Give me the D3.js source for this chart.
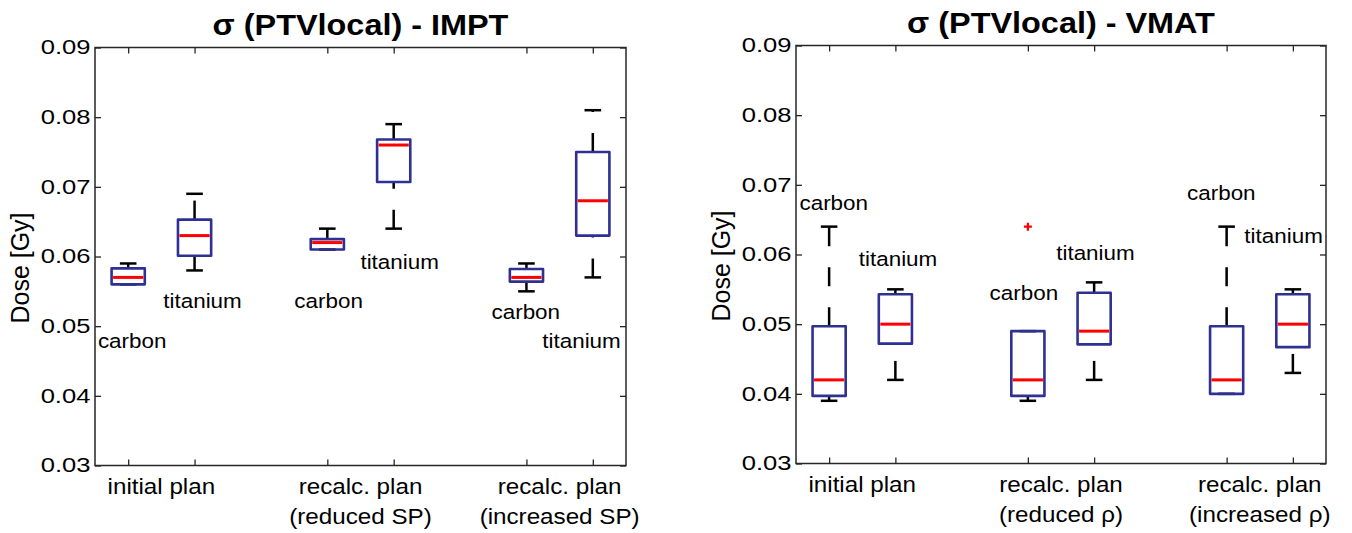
<!DOCTYPE html>
<html lang="en">
  <head>
    <meta charset="utf-8">
    <title>sigma (PTVlocal) boxplots</title>
    <style>
      body { margin: 0; background: #fff; }
      svg text { font-family: "Liberation Sans", Arial, sans-serif; fill: #000; }
      .frame { fill: none; stroke: #262626; stroke-width: 1.5px; }
      .axis line { stroke: #262626; stroke-width: 1.3px; }
      .axis path { display: none; }
    </style>
  </head>
  <body>
    <svg id="chart" width="1352" height="533"></svg>

    <script src="https://cdnjs.cloudflare.com/ajax/libs/d3/7.8.5/d3.min.js"></script>
    <script>
    // box positions (carbon / titanium per plan) and axis ticks
    const positions = [1, 2, 4, 5, 7, 8];
    const yTicks = [0.03, 0.04, 0.05, 0.06, 0.07, 0.08, 0.09];
    const groupCenters = [1.5, 4.5, 7.5];
    const imptGroupLabels = [['initial plan'], ['recalc. plan', '(reduced SP)'], ['recalc. plan', '(increased SP)']];
    const vmatGroupLabels = [['initial plan'], ['recalc. plan', '(reduced \u03c1)'], ['recalc. plan', '(increased \u03c1)']];

    // IMPT
    const imptLowerW = [0.0560, 0.0580, 0.0610, 0.0640, 0.0550, 0.0570];
    const imptQ1     = [0.0560, 0.0601, 0.0610, 0.0707, 0.0564, 0.0630];
    const imptMedian = [0.0570, 0.0630, 0.0620, 0.0760, 0.0570, 0.0680];
    const imptQ3     = [0.0583, 0.0653, 0.0625, 0.0768, 0.0582, 0.0750];
    const imptUpperW = [0.0590, 0.0690, 0.0640, 0.0790, 0.0590, 0.0810];
    const imptOutliers = [];
    const imptNotes  = ['carbon', 'titanium', 'carbon', 'titanium', 'carbon', 'titanium'];
    const imptNoteX  = [1.06, 2.12, 4.02, 5.09, 6.99, 7.83];
    const imptNoteY  = [0.0468, 0.0526, 0.0526, 0.0582, 0.0510, 0.0468];

    // VMAT
    const vmatLowerW = [0.0390, 0.0420, 0.0390, 0.0420, 0.0400, 0.0430];
    const vmatQ1     = [0.0397, 0.0472, 0.0397, 0.0471, 0.0400, 0.0467];
    const vmatMedian = [0.0420, 0.0500, 0.0420, 0.0490, 0.0420, 0.0500];
    const vmatQ3     = [0.0497, 0.0543, 0.0490, 0.0545, 0.0497, 0.0543];
    const vmatUpperW = [0.0640, 0.0550, 0.0490, 0.0560, 0.0640, 0.0550];
    const vmatOutliers = [{pos: 4, value: 0.064}];
    const vmatNotes  = ['carbon', 'titanium', 'carbon', 'titanium', 'carbon', 'titanium'];
    const vmatNoteX  = [1.07, 2.04, 3.94, 5.02, 6.92, 7.86];
    const vmatNoteY  = [0.0664, 0.0584, 0.0535, 0.0592, 0.0678, 0.0616];

    const boxColor = '#2e3192';
    const medianColor = '#ff0000';
    const boxWidth = 0.5;

    const svg = d3.select('#chart');

    // widen text horizontally around a fixed point
    function stretch(sel, sx, origin) {
      sel.style('transform-box', 'fill-box')
        .style('transform-origin', origin)
        .style('transform', 'scaleX(' + sx + ')');
    }

    function drawPanel(p) {
      const x = d3.scaleLinear().domain([0.5, 8.5]).range([p.left, p.right]);
      const y = d3.scaleLinear().domain([0.03, 0.09]).range([p.bottom, p.top]);
      const g = svg.append('g');

      // axes with inward ticks
      const left = g.append('g').attr('class', 'axis')
        .attr('transform', 'translate(' + p.left + ',0)')
        .call(d3.axisLeft(y).tickValues(yTicks).tickSize(-6).tickPadding(4.5).tickFormat(d3.format('.2f')));
      left.selectAll('text').style('font-size', '20px');
      stretch(left.selectAll('text'), 1.28, 'right center');

      g.append('g').attr('class', 'axis')
        .attr('transform', 'translate(' + p.right + ',0)')
        .call(d3.axisRight(y).tickValues(yTicks).tickSize(-6).tickFormat(''));
      g.append('g').attr('class', 'axis')
        .attr('transform', 'translate(0,' + p.bottom + ')')
        .call(d3.axisBottom(x).tickValues(positions).tickSize(-6).tickFormat(''));
      g.append('g').attr('class', 'axis')
        .attr('transform', 'translate(0,' + p.top + ')')
        .call(d3.axisTop(x).tickValues(positions).tickSize(-6).tickFormat(''));

      g.append('rect').attr('class', 'frame')
        .attr('x', p.left).attr('y', p.top)
        .attr('width', p.right - p.left).attr('height', p.bottom - p.top);

      // group labels under the axis
      const gl = g.selectAll('.glabel').data(groupCenters).enter().append('text')
        .attr('class', 'glabel')
        .attr('text-anchor', 'middle')
        .style('font-size', '22px');
      gl.each(function(d, i) {
        const t = d3.select(this);
        p.groupLabels[i].forEach(function(line, k) {
          t.append('tspan').attr('x', x(d)).attr('y', p.bottom + 29 + k * 30).text(line);
        });
      });
      stretch(gl, 1.1, 'center');

      // y label
      g.append('text')
        .attr('transform', 'translate(' + (p.left - 66.5) + ',' + p.labelY + ') rotate(-90)')
        .attr('text-anchor', 'middle')
        .style('font-size', '25px')
        .text('Dose [Gy]');

      // title
      const title = g.append('text')
        .attr('x', (p.left + p.right) / 2)
        .attr('y', p.top - 12.5)
        .attr('text-anchor', 'middle')
        .style('font-size', '30px')
        .style('font-weight', 'bold')
        .text(p.title);
      stretch(title, 1.08, 'center');

      const idx = d3.range(positions.length);
      const hw = boxWidth / 2;

      // dashed whiskers, drawn from the lower value upwards
      const whisk = g.append('g')
        .attr('stroke', '#000').attr('stroke-width', 2.5)
        .attr('stroke-dasharray', '19,21').attr('fill', 'none');
      idx.forEach(function(i) {
        const cx = x(positions[i]);
        if (p.lowerW[i] < p.q1[i]) {
          whisk.append('path').attr('d', 'M' + cx + ',' + y(p.lowerW[i]) + 'L' + cx + ',' + y(p.q1[i]));
        }
        if (p.upperW[i] > p.q3[i]) {
          whisk.append('path').attr('d', 'M' + cx + ',' + y(p.q3[i]) + 'L' + cx + ',' + y(p.upperW[i]));
        }
      });

      // whisker caps
      const caps = g.append('g').attr('stroke', '#000').attr('stroke-width', 2.5);
      idx.forEach(function(i) {
        [p.lowerW[i], p.upperW[i]].forEach(function(v) {
          caps.append('line')
            .attr('x1', x(positions[i] - hw / 2)).attr('x2', x(positions[i] + hw / 2))
            .attr('y1', y(v)).attr('y2', y(v));
        });
      });

      // boxes
      g.append('g').selectAll('rect').data(idx).enter().append('rect')
        .attr('x', function(i) { return x(positions[i] - hw); })
        .attr('width', function(i) { return x(positions[i] + hw) - x(positions[i] - hw); })
        .attr('y', function(i) { return y(p.q3[i]); })
        .attr('height', function(i) { return y(p.q1[i]) - y(p.q3[i]); })
        .attr('fill', 'none')
        .attr('stroke', boxColor).attr('stroke-width', 2.6)
        .attr('stroke-linejoin', 'round');

      // medians
      g.append('g').selectAll('line').data(idx).enter().append('line')
        .attr('x1', function(i) { return x(positions[i] - hw) + 1.5; })
        .attr('x2', function(i) { return x(positions[i] + hw) - 1.5; })
        .attr('y1', function(i) { return y(p.median[i]); })
        .attr('y2', function(i) { return y(p.median[i]); })
        .attr('stroke', medianColor).attr('stroke-width', 3);

      // outliers
      g.append('g').selectAll('path').data(p.outliers).enter().append('path')
        .attr('d', function(d) {
          const cx = x(d.pos), cy = y(d.value), s = 4;
          return 'M' + (cx - s) + ',' + cy + 'H' + (cx + s) + 'M' + cx + ',' + (cy - s) + 'V' + (cy + s);
        })
        .attr('stroke', medianColor).attr('stroke-width', 2.2).attr('fill', 'none');

      // carbon / titanium notes
      const notes = g.append('g').selectAll('text').data(idx).enter().append('text')
        .attr('x', function(i) { return x(p.noteX[i]); })
        .attr('y', function(i) { return y(p.noteY[i]); })
        .attr('text-anchor', 'middle')
        .style('font-size', '19.5px')
        .text(function(i) { return p.notes[i]; });
      stretch(notes, 1.15, 'center');
    }

    drawPanel({
      title: '\u03c3 (PTVlocal) - IMPT',
      left: 95, right: 626, top: 47.5, bottom: 465.5, labelY: 268,
      lowerW: imptLowerW, q1: imptQ1, median: imptMedian, q3: imptQ3, upperW: imptUpperW,
      outliers: imptOutliers, notes: imptNotes, noteX: imptNoteX, noteY: imptNoteY,
      groupLabels: imptGroupLabels
    });

    drawPanel({
      title: '\u03c3 (PTVlocal) - VMAT',
      left: 796, right: 1326, top: 45.5, bottom: 463.5, labelY: 266,
      lowerW: vmatLowerW, q1: vmatQ1, median: vmatMedian, q3: vmatQ3, upperW: vmatUpperW,
      outliers: vmatOutliers, notes: vmatNotes, noteX: vmatNoteX, noteY: vmatNoteY,
      groupLabels: vmatGroupLabels
    });
    </script>
  </body>
</html>
